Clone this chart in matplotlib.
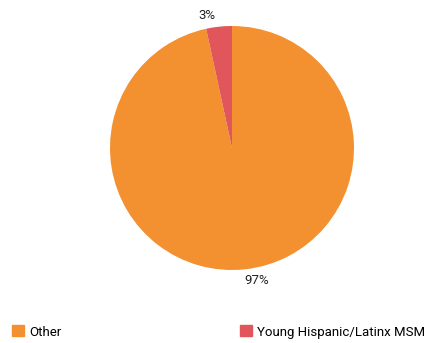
import matplotlib
matplotlib.use("Agg")
import matplotlib.pyplot as plt
from matplotlib.patches import Patch

labels = ["Other", "Young Hispanic/Latinx MSM"]
values = [96.6, 3.4]
colors = ["#F39130", "#E0565B"]

plt.rcParams['font.family'] = ['Roboto', 'DejaVu Sans']

fig = plt.figure(figsize=(4.32, 3.43), dpi=100)
ax = fig.add_axes([110 / 432, (343 - 270) / 343, 244 / 432, 244 / 343])

wedges, texts, autotexts = ax.pie(values, colors=colors, startangle=90, counterclock=False,
                                  autopct='%.0f%%', pctdistance=1.09,
                                  wedgeprops=dict(linewidth=0),
                                  textprops=dict(fontsize=9.5, color='#222222'))
# push the outside labels a little sideways like the original
for t in autotexts:
    x, y = t.get_position()
    t.set_position((x * 1.75, y))

ax.set_xlim(-1, 1)
ax.set_ylim(-1, 1)
ax.set_aspect('auto')
ax.axis('off')

# legend: one entry at the left, one in the middle
fig.legend(handles=[Patch(color=colors[0])], labels=[labels[0]], loc='center left',
           bbox_to_anchor=(0.0, (343 - 332) / 343), frameon=False, fontsize=9.5,
           handlelength=0.9, handleheight=0.9, handletextpad=0.4)
fig.legend(handles=[Patch(color=colors[1])], labels=[labels[1]], loc='center left',
           bbox_to_anchor=(228 / 432, (343 - 332) / 343), frameon=False, fontsize=9.5,
           handlelength=0.9, handleheight=0.9, handletextpad=0.4)

fig.savefig("out.png", dpi=100)
